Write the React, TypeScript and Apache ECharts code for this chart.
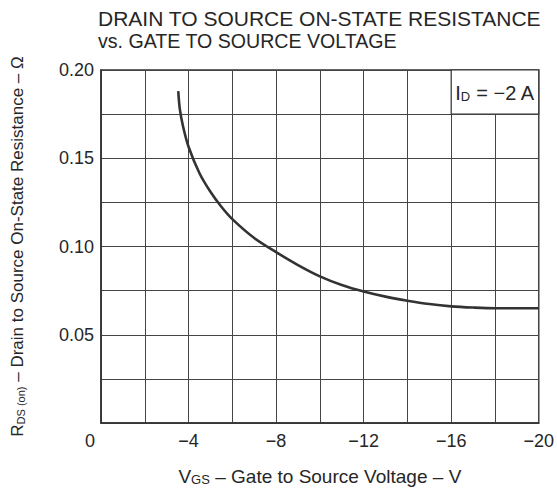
import React, { useEffect, useRef } from "react";
import * as echarts from "echarts";

const vgs = [-3.53, -3.6, -3.75, -4.0, -4.5, -5, -5.5, -6, -7, -8, -9, -10, -11, -12, -13, -14, -15, -16, -17, -18, -19, -20];
const rds = [0.188, 0.178, 0.168, 0.1565, 0.1415, 0.131, 0.1225, 0.1155, 0.1048, 0.0968, 0.0895, 0.0831, 0.0782, 0.0745, 0.0716, 0.0693, 0.0674, 0.0661, 0.0654, 0.065, 0.065, 0.065];
const xTickLabels = [0, -4, -8, -12, -16, -20];
const yTickLabels = [0.05, 0.1, 0.15, 0.2];
const titleLines = ["DRAIN TO SOURCE ON-STATE RESISTANCE", "vs. GATE TO SOURCE VOLTAGE"];
const conditionText = "ID = −2 A";

const FONT = '"Liberation Sans", Arial, Helvetica, sans-serif';
const INK = "#262626";
const GRIDC = "#454545";

export default function App() {
  const ref = useRef<HTMLDivElement>(null);
  useEffect(() => {
    if (!ref.current) return;
    const chart = echarts.init(ref.current, null, { renderer: "svg" });
    const data = vgs.map((x, i) => [x, rds[i]]);
    chart.setOption({
      animation: false,
      backgroundColor: "#fff",
      textStyle: { fontFamily: FONT, color: INK },
      grid: {
        left: 101,
        top: 70,
        right: 13.5,
        bottom: 73,
        show: true,
        borderColor: "#333",
        borderWidth: 1.5,
        backgroundColor: "transparent",
      },
      graphic: [
        {
          type: "text",
          left: 98,
          top: 8,
          style: {
            text: titleLines[0],
            font: `21px ${FONT}`,
            fill: INK,
            lineHeight: 20,
          },
        },
        {
          type: "text",
          left: 98,
          top: 31,
          style: {
            text: titleLines[1],
            font: `19.6px ${FONT}`,
            fill: INK,
            lineHeight: 20,
          },
        },
      ],
      xAxis: {
        type: "value",
        min: -20,
        max: 0,
        interval: 2,
        inverse: true,
        axisLine: { show: true, lineStyle: { color: "#333", width: 1.5 } },
        axisTick: { show: false },
        splitLine: { show: true, lineStyle: { color: GRIDC, width: 1 } },
        axisLabel: {
          show: true,
          margin: 9,
          fontSize: 18,
          color: INK,
          fontFamily: FONT,
          showMinLabel: true,
          showMaxLabel: true,
          formatter: (v: number) => {
            const r = Math.round(v);
            if (!xTickLabels.includes(r)) return "";
            if (r === 0) return "{z|0}";
            return "−" + Math.abs(r);
          },
          rich: { z: { fontSize: 18, color: INK, fontFamily: FONT, padding: [0, 22, 0, 0] } },
        },
        name: "{v|V}{s|GS}{v| – Gate to Source Voltage – V}",
        nameLocation: "middle",
        nameGap: 41,
        nameTextStyle: {
          rich: {
            v: { fontSize: 19, color: INK, fontFamily: FONT, verticalAlign: "bottom", lineHeight: 22 },
            s: { fontSize: 13, color: INK, fontFamily: FONT, verticalAlign: "bottom", lineHeight: 22 },
          },
        },
      },
      yAxis: {
        type: "value",
        min: 0,
        max: 0.2,
        interval: 0.025,
        axisLine: { show: true, lineStyle: { color: "#333", width: 1.5 } },
        axisTick: { show: false },
        splitLine: { show: true, lineStyle: { color: GRIDC, width: 1 } },
        axisLabel: {
          margin: 7,
          fontSize: 18,
          color: INK,
          fontFamily: FONT,
          formatter: (v: number) => {
            const r = Math.round(v * 1000) / 1000;
            const hit = yTickLabels.find((t) => Math.abs(t - r) < 1e-6);
            return hit !== undefined ? hit.toFixed(2) : "";
          },
        },
        name: "{v|R}{s|DS (on)}{v| – Drain to Source On-State Resistance – Ω}",
        nameLocation: "middle",
        nameGap: 75,
        nameTextStyle: {
          rich: {
            v: { fontSize: 17, color: INK, fontFamily: FONT, verticalAlign: "bottom", lineHeight: 20 },
            s: { fontSize: 11, color: INK, fontFamily: FONT, verticalAlign: "bottom", lineHeight: 20 },
          },
        },
      },
      series: [
        {
          type: "line",
          data,
          smooth: 0.3,
          showSymbol: false,
          lineStyle: { color: "#333", width: 2.6 },
          z: 5,
          markArea: {
            silent: true,
            itemStyle: { color: "#fff", borderColor: "#333", borderWidth: 1.2 },
            label: {
              show: true,
              position: "inside",
              formatter: "{i|I}{d|D}{i| = −2 A}",
              rich: {
                i: { fontSize: 20, color: INK, fontFamily: FONT, verticalAlign: "bottom", lineHeight: 22 },
                d: { fontSize: 13, color: INK, fontFamily: FONT, verticalAlign: "bottom", lineHeight: 22 },
              },
            },
            data: [[{ coord: [-16, 0.175], name: conditionText }, { coord: [-20, 0.2] }]],
          },
        },
      ],
    });
    return () => chart.dispose();
  }, []);
  return (
    <div
      ref={ref}
      style={{ position: "fixed", left: 0, top: 0, width: 557, height: 496, background: "#fff" }}
    />
  );
}
